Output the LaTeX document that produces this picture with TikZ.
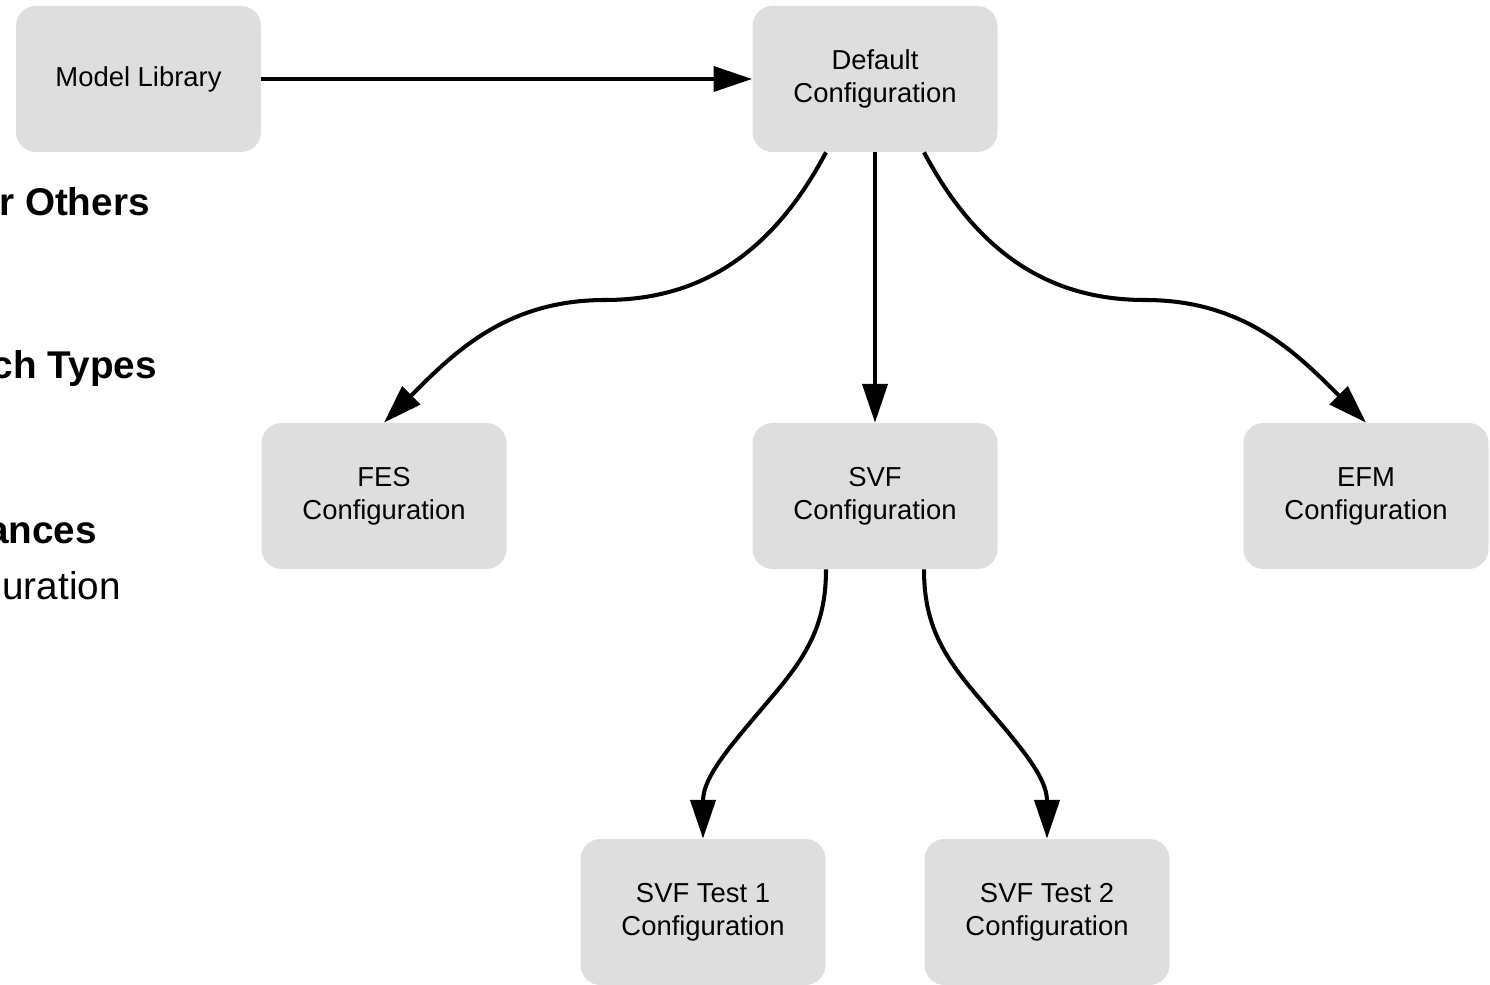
\documentclass[tikz,border=0pt]{standalone}
\usepackage{fontspec}
\setmainfont{Liberation Sans}
\usetikzlibrary{arrows.meta}
\definecolor{boxgray}{HTML}{DEDEDE}
\tikzset{
  cfgbox/.style={fill=boxgray, rounded corners=0.4cm, minimum width=4.9cm,
    minimum height=2.92cm, align=center, inner sep=0pt,
    font=\fontsize{15.6}{18.7}\selectfont},
  link/.style={line width=2.3pt, -{Triangle[length=22pt,width=14.2pt]}},
  sidetext/.style={anchor=base east, inner sep=0pt,
    font=\fontsize{22}{26}\selectfont}
}
\begin{document}
\begin{tikzpicture}
\useasboundingbox (0,0) rectangle (29.8,19.68);
\clip (0,0) rectangle (29.8,19.68);
% cut-off text at the left border
\node[sidetext] (others) at (3.0,15.36) {\textbf{r Others}};
\node[sidetext] (types) at (3.14,12.10) {\textbf{ch Types}};
\node[sidetext] (ances) at (1.94,8.82) {\textbf{ances}};
\node[sidetext] (uration) at (2.42,7.70) {uration};
% boxes
\node[cfgbox] (lib) at (2.77,18.10) {Model Library};
\node[cfgbox] (def) at (17.5,18.10) {Default\\Configuration};
\node[cfgbox] (fes) at (7.68,9.76) {FES\\Configuration};
\node[cfgbox] (svf) at (17.5,9.76) {SVF\\Configuration};
\node[cfgbox] (efm) at (27.32,9.76) {EFM\\Configuration};
\node[cfgbox] (testa) at (14.06,1.44) {SVF Test 1\\Configuration};
\node[cfgbox] (testb) at (20.94,1.44) {SVF Test 2\\Configuration};
% bends of the curved links
\coordinate (fesmid) at (12.1,13.68);
\coordinate (efmmid) at (22.9,13.68);
\coordinate (testamid) at (15.52,5.84);
\coordinate (testbmid) at (19.48,5.84);
% links
\draw[link] (lib.east) -- (def.west);
\draw[link] (def.south) -- (svf.north);
\draw[link] ([xshift=-0.98cm]def.south) to[out=-118,in=0] (fesmid)
  to[out=180,in=45] (fes.north);
\draw[link] ([xshift=0.98cm]def.south) to[out=-62,in=180] (efmmid)
  to[out=0,in=135] (efm.north);
\draw[link] ([xshift=-0.98cm]svf.south) to[out=-90,in=50] (testamid)
  to[out=-130,in=90] (testa.north);
\draw[link] ([xshift=0.98cm]svf.south) to[out=-90,in=130] (testbmid)
  to[out=-50,in=90] (testb.north);
\end{tikzpicture}
\end{document}
